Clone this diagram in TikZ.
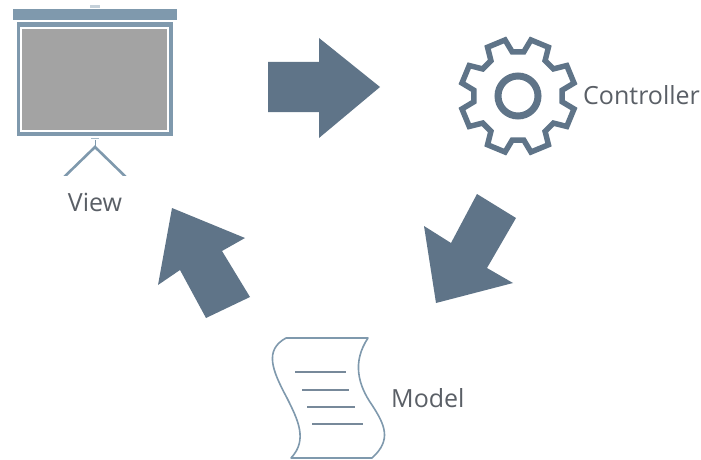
\documentclass[tikz,border=0pt]{standalone}
\usepackage{fontspec}
\setmainfont{Open Sans}
\definecolor{slate}{HTML}{5F7488}
\definecolor{steel}{HTML}{7F99AD}
\definecolor{screengrey}{HTML}{A3A3A3}
\definecolor{labelgrey}{HTML}{5A5F66}
\tikzset{
  bigarrow/.style={fill=slate,draw=none},
  steelbar/.style={fill=steel,draw=none},
  leg/.style={draw=steel,line width=2.6pt},
  gearline/.style={draw=slate,line width=5.5pt,line join=miter},
  docline/.style={draw=slate!85,line width=1.3pt},
  label/.style={text=labelgrey,font=\fontsize{25}{28}\selectfont,inner sep=0pt,anchor=base west}
}
\begin{document}
\begin{tikzpicture}[x=1pt,y=-1pt]
\useasboundingbox (0,0) rectangle (701,460);
% arrows
\fill[bigarrow] (268,62) -- (319,62) -- (319,38) -- (380,87) -- (319,138) -- (319,112) -- (268,112) -- cycle;
\fill[bigarrow] (477,194) -- (516,218) -- (487,268) -- (513,283) -- (436,303) -- (424,226) -- (451,243) -- cycle;
\fill[bigarrow] (172,208) -- (245,238) -- (222,251) -- (250,297) -- (206,318) -- (180,270) -- (158,285) -- cycle;
% screen
\fill[steel!45] (90,5) rectangle (100,8);
\fill[steelbar] (13,9) rectangle (177,20);
\fill[steelbar] (17,22) rectangle (173,136);
\fill[white] (20,27) rectangle (169,132);
\fill[screengrey] (22,29) rectangle (167,130);
\fill[steel!70] (91,137.5) rectangle (99,139);
\draw[draw=steel,line width=1pt] (95,140) -- (95,147);
\begin{scope}
\clip (50,140) rectangle (140,175);
\draw[leg] (60,181) -- (95,147) -- (130,181);
\end{scope}
\node[label,anchor=base] (view) at (95,211) {View};
% gear
\begin{scope}[shift={(518,96)}]
\draw[gearline] (22.5-15:44.5)
  foreach \a in {22.5,67.5,...,337.5} { -- (\a-15:44.5) -- (\a-9.5:57.5) -- (\a+9.5:57.5) -- (\a+15:44.5) } -- cycle;
\draw[draw=slate,line width=7pt] (0,0) circle (20);
\end{scope}
\node[label] (controller) at (583,104) {Controller};
% document
\draw[draw=steel,line width=1.6pt,fill=white,line join=round]
  (286,338) -- (368,338)
  .. controls (352,362) and (358,385) .. (372,405)
  .. controls (385,425) and (392,440) .. (372,458)
  -- (291,458)
  .. controls (308,440) and (298,420) .. (287,398)
  .. controls (272,370) and (264,350) .. (286,338) -- cycle;
\draw[docline] (295,372) -- (346,372);
\draw[docline] (302,390) -- (349,390);
\draw[docline] (307,407) -- (355,407);
\draw[docline] (312,424) -- (363,424);
\node[label] (model) at (391,407) {Model};
\end{tikzpicture}
\end{document}
